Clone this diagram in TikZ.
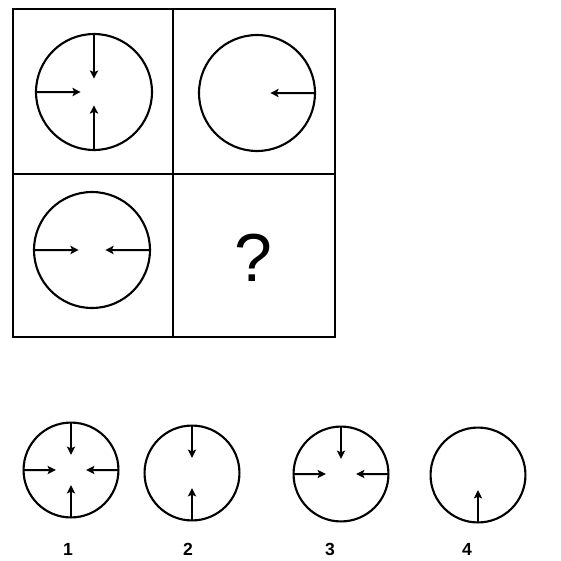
\documentclass[tikz,border=0pt]{standalone}
\usepackage{fontspec}
\setmainfont{Liberation Sans}
\usetikzlibrary{arrows.meta,calc}

\begin{document}
\begin{tikzpicture}[x=0.3mm,y=-0.3mm,
  ring/.style={draw,circle,inner sep=0pt,outer sep=0pt,line width=1.8pt},
  arr/.style={-{Stealth[length=7pt,width=7pt,inset=1.5pt]},line width=1.7pt}]
  \useasboundingbox (0,0) rectangle (561,561);
  % the 2x2 grid
  \draw[line width=2pt] (13,9) rectangle (335,337);
  \draw[line width=2pt] (173,9) -- (173,337) (13,174) -- (335,174);
  % cells with circles
  \foreach \n/\x/\y/\dirs in {a/94/92/{north,west,south},b/257/93/{east},c/92/250/{west,east}} {
    \node[ring,minimum size=99pt] (\n) at (\x,\y) {};
    \foreach \d in \dirs
      \draw[arr] (\n.\d) -- ($(\n.\d)!0.77!(\n.center)$);
  }
  \node[font=\fontsize{58}{60}\selectfont] (q) at (253,258) {?};
  % answer options
  \foreach \n/\x/\y/\dirs/\lx in {1/71/470/{north,west,east,south}/68,2/192/473/{north,south}/188,
      3/341/474/{north,west,east}/330,4/478/475/{south}/467} {
    \node[ring,minimum size=81pt] (o\n) at (\x,\y) {};
    \foreach \d in \dirs
      \draw[arr] (o\n.\d) -- ($(o\n.\d)!0.68!(o\n.center)$);
    \node[font=\bfseries\fontsize{15}{17}\selectfont] (l\n) at (\lx,549) {\n};
  }
\end{tikzpicture}
\end{document}
